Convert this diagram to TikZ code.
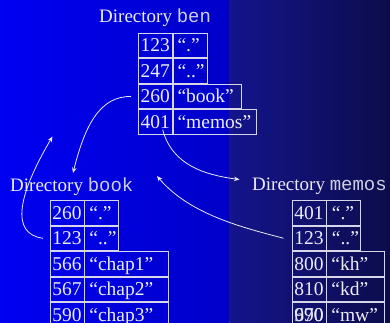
\documentclass[tikz,border=0pt]{standalone}
\usepackage{fontspec}
\setmainfont{Liberation Serif}
\setmonofont{Liberation Mono}
\usetikzlibrary{arrows.meta}

\definecolor{bgA}{RGB}{0,0,242}
\definecolor{bgB}{RGB}{0,0,200}
\definecolor{bgC}{RGB}{20,20,140}
\definecolor{bgD}{RGB}{12,12,76}
\definecolor{ink}{RGB}{236,236,246}
\definecolor{monoink}{RGB}{206,206,228}
\definecolor{cellline}{RGB}{214,214,232}

\newcommand{\dirname}[1]{\textcolor{monoink}{\texttt{#1}}}

\begin{document}
\begin{tikzpicture}[x=1pt,y=-1pt,
  numcell/.style={draw=cellline, line width=0.9pt, minimum width=34pt,
    minimum height=24.6pt, inner sep=0pt, text height=13pt, text depth=0pt,
    font=\fontsize{19.5}{20}\selectfont, text=ink, anchor=north west},
  namecell/.style={numcell, inner xsep=4.5pt, text width=#1, align=left},
  dirtitle/.style={font=\fontsize{19}{20}\selectfont, text=ink, inner sep=0pt,
    anchor=base west},
  link/.style={draw=ink, line width=0.8pt, -{Stealth[length=5.5pt,width=4.5pt]}}]

\useasboundingbox (0,0) rectangle (390,322);
\clip (0,0) rectangle (390,322);

% background: two horizontal blue shadings
\fill[left color=bgA, right color=bgB] (0,0) rectangle (229.5,322);
\fill[left color=bgC, right color=bgD] (229.5,0) rectangle (390,322);

% directory ben
\node[dirtitle] (tben) at (99,22) {Directory \dirname{ben}};
\node[numcell] (b1n) at (137.7,32.7) {123};
\node[namecell=25pt] (b1s) at (b1n.north east) {“.”};
\node[numcell] (b2n) at (b1n.south west) {247};
\node[namecell=25pt] (b2s) at (b2n.north east) {“..”};
\node[numcell] (b3n) at (b2n.south west) {260};
\node[namecell=59.5pt] (b3s) at (b3n.north east) {“book”};
\node[numcell] (b4n) at (b3n.south west) {401};
\node[namecell=74pt] (b4s) at (b4n.north east) {“memos”};

% directory book
\node[dirtitle] (tbook) at (10,191.5) {Directory \dirname{book}};
\node[numcell] (k1n) at (49.5,200) {260};
\node[namecell=25pt] (k1s) at (k1n.north east) {“.”};
\node[numcell] (k2n) at (k1n.south west) {123};
\node[namecell=25pt] (k2s) at (k2n.north east) {“..”};
\node[numcell] (k3n) at (k2n.south west) {566};
\node[namecell=74.5pt] (k3s) at (k3n.north east) {“chap1”};
\node[numcell] (k4n) at (k3n.south west) {567};
\node[namecell=74.5pt] (k4s) at (k4n.north east) {“chap2”};
\node[numcell] (k5n) at (k4n.south west) {590};
\node[namecell=74.5pt] (k5s) at (k5n.north east) {“chap3”};

% directory memos
\node[dirtitle] (tmemos) at (252,190.5) {Directory \dirname{memos}};
\node[numcell] (m1n) at (291.5,200) {401};
\node[namecell=24pt] (m1s) at (m1n.north east) {“.”};
\node[numcell] (m2n) at (m1n.south west) {123};
\node[namecell=24pt] (m2s) at (m2n.north east) {“..”};
\node[numcell] (m3n) at (m2n.south west) {800};
\node[namecell=49pt] (m3s) at (m3n.north east) {“kh”};
\node[numcell] (m4n) at (m3n.south west) {810};
\node[namecell=49pt] (m4s) at (m4n.north east) {“kd”};
\node[numcell] (m5n) at (m4n.south west) {\rlap{690}970};
\node[namecell=49pt] (m5s) at (m5n.north east) {“mw”};

% link ends
\coordinate (s1) at ([xshift=-6.5pt]b3n.west);
\coordinate (e1) at (73,173);
\coordinate (s2) at ([xshift=-6.5pt]k2n.west);
\coordinate (e2) at (52.5,136.5);
\coordinate (s3) at ([xshift=25pt,yshift=5pt]b4n.south west);
\coordinate (e3) at (239.5,179.5);
\coordinate (s4) at ([xshift=-8pt]m2n.west);
\coordinate (e4) at (157,176);

% links between the directories
\draw[link] (s1) .. controls (100,96) and (85,125) .. (e1);
\draw[link] (s2) .. controls (10,234) and (18,195) .. (e2);
\draw[link] (s3) .. controls (172,165) and (205,175) .. (e3);
\draw[link] (s4) .. controls (245,228) and (190,215) .. (e4);
\end{tikzpicture}
\end{document}
